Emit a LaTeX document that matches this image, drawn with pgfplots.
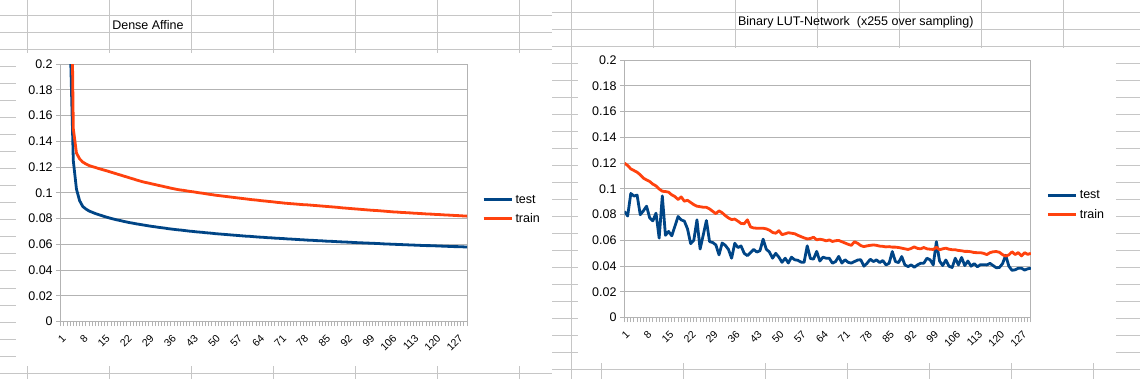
\documentclass[border=0pt]{standalone}
\usepackage{fontspec}
\setmainfont{Liberation Sans}
\usepackage{pgfplots}
\usepackage{pgfplotstable}
\pgfplotsset{compat=1.18}
\definecolor{lotest}{HTML}{004586}
\definecolor{lotrain}{HTML}{FF420E}
\definecolor{gridc}{HTML}{B3B3B3}
\definecolor{sheet}{HTML}{C6C6C6}
\newcommand{\lofont}{\fontsize{12.5}{15}\selectfont}
\newcommand{\xfont}{\fontsize{10.5}{12}\selectfont}

\pgfplotstableread{
i test train
1 0.80 0.90
2 0.45 0.60
3 0.32 0.45
4 0.22 0.35
5 0.125 0.150
6 0.103 0.131
7 0.094 0.1265
8 0.0895 0.124
9 0.0875 0.1225
10 0.0860 0.1213
11 0.0850 0.1205
12 0.0840 0.1198
13 0.0832 0.1190
14 0.0824 0.1183
15 0.0816 0.1176
16 0.0809 0.1169
17 0.0802 0.1161
18 0.0796 0.1154
19 0.0790 0.1146
20 0.0785 0.1139
21 0.0779 0.1131
22 0.0774 0.1124
23 0.0769 0.1116
24 0.0765 0.1109
25 0.0760 0.1101
26 0.0756 0.1094
27 0.0752 0.1087
28 0.0748 0.1081
29 0.0744 0.1076
30 0.0740 0.1070
31 0.0737 0.1065
32 0.0733 0.1059
33 0.0730 0.1054
34 0.0727 0.1048
35 0.0723 0.1043
36 0.0720 0.1037
37 0.0717 0.1032
38 0.0714 0.1027
39 0.0712 0.1023
40 0.0709 0.1020
41 0.0706 0.1016
42 0.0703 0.1012
43 0.0701 0.1009
44 0.0698 0.1005
45 0.0696 0.1001
46 0.0694 0.0998
47 0.0691 0.0994
48 0.0689 0.0990
49 0.0687 0.0987
50 0.0684 0.0983
51 0.0682 0.0980
52 0.0680 0.0977
53 0.0678 0.0974
54 0.0676 0.0971
55 0.0674 0.0968
56 0.0672 0.0965
57 0.0670 0.0962
58 0.0668 0.0959
59 0.0666 0.0956
60 0.0664 0.0953
61 0.0663 0.0950
62 0.0661 0.0947
63 0.0659 0.0945
64 0.0657 0.0942
65 0.0656 0.0939
66 0.0654 0.0937
67 0.0652 0.0934
68 0.0651 0.0932
69 0.0649 0.0929
70 0.0648 0.0926
71 0.0646 0.0924
72 0.0645 0.0921
73 0.0643 0.0919
74 0.0642 0.0917
75 0.0640 0.0915
76 0.0639 0.0913
77 0.0637 0.0911
78 0.0636 0.0909
79 0.0634 0.0908
80 0.0633 0.0906
81 0.0632 0.0904
82 0.0630 0.0902
83 0.0629 0.0900
84 0.0628 0.0898
85 0.0626 0.0896
86 0.0625 0.0894
87 0.0624 0.0892
88 0.0623 0.0890
89 0.0621 0.0888
90 0.0620 0.0885
91 0.0619 0.0883
92 0.0618 0.0881
93 0.0617 0.0879
94 0.0615 0.0877
95 0.0614 0.0875
96 0.0613 0.0873
97 0.0612 0.0871
98 0.0611 0.0869
99 0.0610 0.0867
100 0.0609 0.0865
101 0.0608 0.0864
102 0.0607 0.0862
103 0.0605 0.0860
104 0.0604 0.0858
105 0.0603 0.0856
106 0.0602 0.0854
107 0.0601 0.0852
108 0.0600 0.0851
109 0.0599 0.0849
110 0.0598 0.0848
111 0.0597 0.0846
112 0.0596 0.0845
113 0.0595 0.0843
114 0.0594 0.0842
115 0.0593 0.0840
116 0.0592 0.0839
117 0.0591 0.0837
118 0.0591 0.0836
119 0.0590 0.0835
120 0.0589 0.0833
121 0.0588 0.0832
122 0.0587 0.0831
123 0.0586 0.0829
124 0.0585 0.0828
125 0.0584 0.0827
126 0.0583 0.0825
127 0.0583 0.0824
128 0.0582 0.0823
129 0.0581 0.0821
130 0.0580 0.0820
}\dense

\pgfplotstableread{
i test train
1 0.0825 0.1200
2 0.0790 0.1182
3 0.0965 0.1156
4 0.0945 0.1143
5 0.0952 0.1130
6 0.0800 0.1110
7 0.0830 0.1084
8 0.0866 0.1070
9 0.0775 0.1058
10 0.0752 0.1037
11 0.0812 0.1024
12 0.0618 0.1000
13 0.0946 0.0982
14 0.0640 0.0980
15 0.0670 0.0975
16 0.0636 0.0954
17 0.0710 0.0941
18 0.0786 0.0918
19 0.0760 0.0938
20 0.0750 0.0905
21 0.0690 0.0912
22 0.0575 0.0895
23 0.0602 0.0878
24 0.0760 0.0866
25 0.0533 0.0862
26 0.0643 0.0858
27 0.0755 0.0857
28 0.0591 0.0845
29 0.0584 0.0826
30 0.0565 0.0808
31 0.0488 0.0830
32 0.0580 0.0815
33 0.0562 0.0793
34 0.0530 0.0775
35 0.0462 0.0762
36 0.0578 0.0766
37 0.0545 0.0750
38 0.0557 0.0732
39 0.0500 0.0730
40 0.0482 0.0760
41 0.0505 0.0705
42 0.0530 0.0697
43 0.0510 0.0695
44 0.0520 0.0695
45 0.0610 0.0695
46 0.0532 0.0690
47 0.0510 0.0680
48 0.0462 0.0662
49 0.0500 0.0656
50 0.0470 0.0676
51 0.0430 0.0645
52 0.0462 0.0652
53 0.0425 0.0660
54 0.0470 0.0656
55 0.0450 0.0652
56 0.0446 0.0640
57 0.0432 0.0630
58 0.0430 0.0620
59 0.0558 0.0612
60 0.0460 0.0615
61 0.0455 0.0625
62 0.0515 0.0605
63 0.0440 0.0610
64 0.0470 0.0605
65 0.0462 0.0597
66 0.0462 0.0604
67 0.0423 0.0592
68 0.0436 0.0598
69 0.0476 0.0600
70 0.0424 0.0590
71 0.0450 0.0580
72 0.0430 0.0570
73 0.0424 0.0562
74 0.0436 0.0590
75 0.0448 0.0578
76 0.0450 0.0560
77 0.0400 0.0552
78 0.0423 0.0558
79 0.0454 0.0562
80 0.0436 0.0565
81 0.0449 0.0562
82 0.0428 0.0556
83 0.0444 0.0554
84 0.0410 0.0550
85 0.0423 0.0552
86 0.0514 0.0548
87 0.0436 0.0548
88 0.0428 0.0545
89 0.0475 0.0540
90 0.0410 0.0535
91 0.0397 0.0530
92 0.0410 0.0538
93 0.0392 0.0550
94 0.0410 0.0538
95 0.0423 0.0535
96 0.0423 0.0545
97 0.0462 0.0535
98 0.0450 0.0532
99 0.0410 0.0530
100 0.0590 0.0547
101 0.0440 0.0528
102 0.0405 0.0535
103 0.0448 0.0540
104 0.0400 0.0532
105 0.0390 0.0528
106 0.0462 0.0528
107 0.0410 0.0522
108 0.0468 0.0520
109 0.0405 0.0515
110 0.0440 0.0515
111 0.0400 0.0512
112 0.0420 0.0506
113 0.0395 0.0505
114 0.0412 0.0505
115 0.0412 0.0500
116 0.0410 0.0490
117 0.0422 0.0505
118 0.0405 0.0512
119 0.0388 0.0514
120 0.0390 0.0508
121 0.0420 0.0490
122 0.0485 0.0478
123 0.0400 0.0488
124 0.0368 0.0512
125 0.0372 0.0490
126 0.0384 0.0506
127 0.0384 0.0480
128 0.0370 0.0505
129 0.0380 0.0492
130 0.0384 0.0500
}\lut

\pgfplotsset{
  lostyle/.style={
    scale only axis,
    width=406.4pt, height=257.5pt,
    xmin=1, xmax=130, ymin=0, ymax=0.2,
    axis line style={gridc, line width=1pt},
    ymajorgrids,
    grid style={gridc, line width=1pt},
    tick style={gridc, line width=1pt},
    tick align=outside,
    xtick pos=bottom, ytick pos=left,
    major tick length=4.5pt, minor tick length=4.5pt,
    xtick={1,8,15,22,29,36,43,50,57,64,71,78,85,92,99,106,113,120,127},
    xticklabels={1,8,15,22,29,36,43,50,57,64,71,78,85,92,99,106,113,120,127},
    minor xtick={1,...,130},
    ytick={0,0.02,0.04,0.06,0.08,0.1,0.12,0.14,0.16,0.18,0.2},
    yticklabels={0,0.02,0.04,0.06,0.08,0.1,0.12,0.14,0.16,0.18,0.2},
    yticklabel style={font=\lofont, text=black},
    xticklabel style={font=\xfont, text=black, xshift=4pt, yshift=-9.5pt,
      rotate=45, anchor=east, inner sep=1pt},
    every axis plot/.append style={line width=2.8pt, line join=round, mark=none},
    legend style={anchor=west, draw=none, fill=none, font=\lofont, row sep=5pt},
    legend cell align=left,
    legend image code/.code={\draw[##1] (0pt,0pt) -- (28.5pt,0pt);},
  }
}

\begin{document}
\begin{tikzpicture}
\useasboundingbox (0,0) rectangle (1140pt,379pt);
\fill[white] (0,0) rectangle (1140pt,379pt);
\begin{scope}[x=1pt, y=-1pt, shift={(0pt,379pt)}, line width=1pt]
  \foreach \k in {0,...,21} \draw[sheet] (0,{15.7+17.02*\k}) -- (552,{15.7+17.02*\k});
  \foreach \j in {0,...,6} \draw[sheet] ({27.5+82.02*\j},0) -- ({27.5+82.02*\j},379);
  \foreach \k in {0,...,21} \draw[sheet] (552,{12.3+17*\k}) -- (1140,{12.3+17*\k});
  \foreach \j in {0,...,6} \draw[sheet] ({571.1+82.05*\j},0) -- ({571.1+82.05*\j},200);
  \foreach \j in {0,...,6} \draw[sheet] ({601.8+81.9*\j},200) -- ({601.8+81.9*\j},379);
  \draw[sheet] (571.1,0) -- (571.1,379);
  \fill[white] (16,53) rectangle (552,366);
  \fill[white] (578,48) rectangle (1116,363);
  \node[anchor=base west, font=\lofont, inner sep=0pt] at (111.8,29.3) {Dense Affine};
  \node[anchor=base west, font=\lofont, inner sep=0pt] at (737.6,26) {Binary LUT-Network\ \ (x255 over sampling)};
\end{scope}

\begin{axis}[lostyle, at={(60.7pt,57.3pt)}, anchor=south west,
  legend style={at={(1.0293,0.4354)}}]
  \addplot[lotest] table[x=i, y=test] {\dense};
  \addlegendentry{test}
  \addplot[lotrain] table[x=i, y=train] {\dense};
  \addlegendentry{train}
\end{axis}

\begin{axis}[lostyle, at={(624.5pt,61.3pt)}, anchor=south west,
  legend style={at={(1.0305,0.436)}}]
  \addplot[lotest] table[x=i, y=test] {\lut};
  \addlegendentry{test}
  \addplot[lotrain] table[x=i, y=train] {\lut};
  \addlegendentry{train}
\end{axis}
\end{tikzpicture}
\end{document}
